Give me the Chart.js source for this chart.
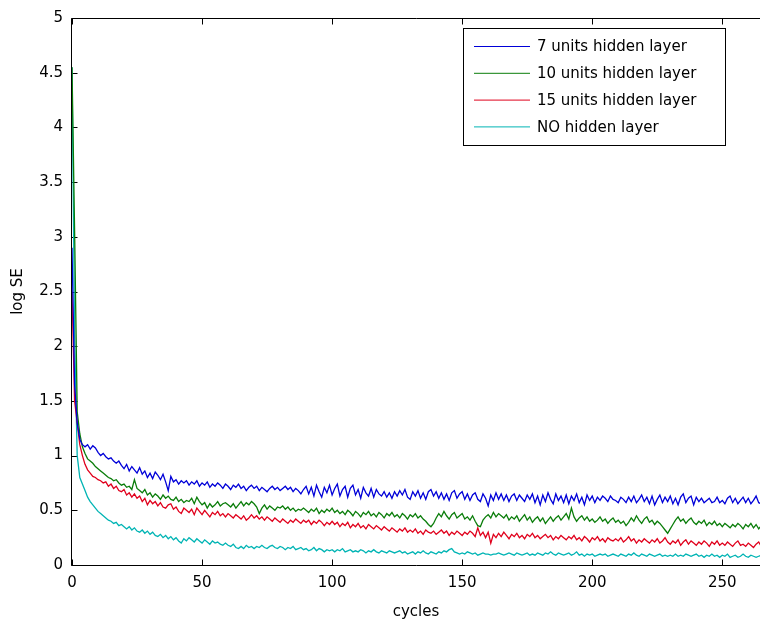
<!DOCTYPE html>
<html><head><meta charset="utf-8">
<script src="https://cdn.jsdelivr.net/npm/chart.js@4.4.1/dist/chart.umd.min.js"></script>
<style>html,body{margin:0;padding:0;background:#fff;overflow:hidden}canvas{display:block}</style>
</head><body>
<canvas id="c" width="760" height="621"></canvas>
<script>
// ---------- data ----------
const seriesLabels = ['7 units hidden layer', '10 units hidden layer', '15 units hidden layer', 'NO hidden layer'];
const seriesColors = ['#0000d8', '#0a7d0a', '#e0001c', '#00b4b4'];

const units7 = [
2.90,1.65,1.30,1.15,1.10,1.08,1.10,1.06,1.09,1.07,
1.03,1.00,1.02,0.99,0.97,0.98,0.95,0.93,0.95,0.91,
0.88,0.92,0.86,0.90,0.87,0.84,0.89,0.83,0.86,0.80,
0.84,0.79,0.85,0.82,0.78,0.83,0.76,0.68,0.81,0.76,
0.78,0.74,0.77,0.75,0.77,0.73,0.76,0.74,0.77,0.72,
0.75,0.73,0.76,0.71,0.74,0.72,0.75,0.73,0.70,0.74,
0.72,0.69,0.73,0.71,0.74,0.70,0.72,0.68,0.71,0.73,
0.70,0.72,0.68,0.71,0.69,0.67,0.70,0.72,0.69,0.71,
0.68,0.70,0.72,0.69,0.71,0.67,0.70,0.68,0.65,0.69,
0.72,0.65,0.71,0.63,0.73,0.67,0.62,0.71,0.66,0.73,
0.64,0.70,0.74,0.63,0.69,0.72,0.62,0.70,0.73,0.64,
0.69,0.61,0.71,0.66,0.63,0.70,0.62,0.69,0.65,0.63,
0.67,0.62,0.66,0.61,0.67,0.63,0.68,0.64,0.69,0.62,
0.60,0.67,0.63,0.68,0.61,0.66,0.60,0.67,0.69,0.63,
0.67,0.61,0.66,0.60,0.65,0.59,0.66,0.68,0.61,0.65,
0.67,0.60,0.65,0.59,0.64,0.66,0.60,0.58,0.65,0.61,
0.54,0.64,0.59,0.66,0.60,0.65,0.59,0.64,0.58,0.63,
0.65,0.59,0.64,0.61,0.58,0.64,0.60,0.65,0.57,0.63,
0.55,0.64,0.58,0.66,0.60,0.56,0.65,0.59,0.63,0.57,
0.64,0.56,0.63,0.59,0.65,0.57,0.62,0.55,0.64,0.59,
0.63,0.57,0.62,0.59,0.63,0.61,0.58,0.63,0.60,0.59,
0.57,0.62,0.60,0.57,0.62,0.58,0.63,0.57,0.60,0.64,
0.58,0.62,0.56,0.63,0.55,0.60,0.64,0.57,0.62,0.58,
0.63,0.56,0.61,0.55,0.62,0.65,0.57,0.61,0.63,0.55,
0.62,0.58,0.61,0.57,0.59,0.61,0.57,0.58,0.62,0.57,
0.59,0.56,0.61,0.63,0.57,0.61,0.56,0.59,0.62,0.57,
0.61,0.56,0.59,0.63,0.57,0.56,0.55];

const units10 = [
4.55,3.05,1.40,1.20,1.08,1.02,0.97,0.95,0.93,0.90,
0.88,0.86,0.84,0.82,0.80,0.79,0.77,0.78,0.75,0.73,
0.74,0.71,0.72,0.69,0.78,0.70,0.68,0.66,0.69,0.64,
0.66,0.62,0.65,0.63,0.60,0.64,0.61,0.63,0.60,0.59,
0.62,0.58,0.60,0.57,0.59,0.58,0.61,0.56,0.62,0.58,
0.55,0.57,0.52,0.56,0.53,0.55,0.58,0.54,0.56,0.57,
0.55,0.53,0.56,0.52,0.55,0.58,0.54,0.57,0.55,0.58,
0.56,0.53,0.47,0.52,0.55,0.51,0.54,0.52,0.50,0.53,
0.52,0.54,0.51,0.53,0.50,0.52,0.49,0.51,0.50,0.52,
0.50,0.48,0.51,0.49,0.52,0.47,0.50,0.48,0.51,0.49,
0.52,0.48,0.50,0.47,0.49,0.46,0.50,0.48,0.45,0.49,
0.47,0.44,0.48,0.46,0.49,0.45,0.47,0.44,0.48,0.46,
0.43,0.47,0.45,0.48,0.44,0.46,0.43,0.47,0.45,0.42,
0.46,0.44,0.47,0.43,0.45,0.42,0.40,0.37,0.35,0.38,
0.43,0.47,0.44,0.49,0.45,0.42,0.46,0.48,0.43,0.45,
0.47,0.42,0.44,0.41,0.45,0.40,0.36,0.35,0.41,0.44,
0.46,0.43,0.48,0.44,0.47,0.45,0.43,0.46,0.41,0.44,
0.42,0.45,0.40,0.43,0.46,0.41,0.44,0.39,0.42,0.44,
0.40,0.43,0.38,0.41,0.44,0.40,0.43,0.45,0.41,0.44,
0.47,0.42,0.52,0.44,0.40,0.43,0.45,0.41,0.44,0.40,
0.42,0.39,0.41,0.44,0.40,0.42,0.38,0.41,0.43,0.39,
0.41,0.38,0.40,0.36,0.39,0.43,0.40,0.45,0.41,0.38,
0.42,0.44,0.39,0.41,0.37,0.40,0.38,0.35,0.32,0.29,
0.33,0.37,0.41,0.44,0.40,0.42,0.38,0.41,0.43,0.39,
0.37,0.40,0.38,0.41,0.36,0.39,0.37,0.40,0.36,0.38,
0.35,0.38,0.36,0.34,0.37,0.35,0.38,0.36,0.33,0.37,
0.35,0.38,0.34,0.37,0.33,0.36,0.33];

const units15 = [
2.50,1.50,1.30,1.10,1.00,0.92,0.87,0.84,0.81,0.80,
0.78,0.77,0.75,0.76,0.72,0.74,0.70,0.72,0.68,0.67,
0.69,0.64,0.66,0.62,0.65,0.61,0.63,0.58,0.61,0.55,
0.59,0.56,0.58,0.54,0.57,0.53,0.52,0.55,0.56,0.51,
0.53,0.49,0.47,0.52,0.50,0.48,0.51,0.46,0.52,0.49,
0.46,0.50,0.47,0.44,0.48,0.46,0.49,0.45,0.47,0.44,
0.47,0.45,0.43,0.46,0.44,0.42,0.45,0.41,0.43,0.46,
0.43,0.45,0.42,0.44,0.41,0.44,0.42,0.40,0.43,0.41,
0.39,0.42,0.40,0.38,0.41,0.39,0.42,0.40,0.38,0.41,
0.39,0.41,0.37,0.40,0.38,0.41,0.39,0.36,0.39,0.37,
0.40,0.37,0.39,0.35,0.38,0.36,0.39,0.34,0.37,0.35,
0.38,0.34,0.36,0.33,0.37,0.35,0.33,0.36,0.34,0.32,
0.35,0.33,0.31,0.34,0.32,0.30,0.33,0.31,0.34,0.30,
0.32,0.30,0.33,0.29,0.31,0.28,0.32,0.30,0.29,0.31,
0.28,0.30,0.32,0.29,0.31,0.27,0.30,0.28,0.31,0.29,
0.27,0.30,0.28,0.31,0.29,0.26,0.34,0.27,0.30,0.25,
0.30,0.20,0.28,0.25,0.29,0.26,0.30,0.27,0.24,0.28,
0.26,0.29,0.25,0.27,0.24,0.28,0.26,0.29,0.25,0.27,
0.24,0.26,0.28,0.25,0.27,0.23,0.26,0.24,0.27,0.25,
0.23,0.26,0.24,0.27,0.23,0.25,0.22,0.26,0.24,0.21,
0.25,0.23,0.26,0.22,0.24,0.21,0.25,0.23,0.22,0.24,
0.22,0.25,0.21,0.23,0.26,0.22,0.24,0.20,0.23,0.21,
0.24,0.22,0.20,0.23,0.21,0.24,0.20,0.22,0.25,0.21,
0.19,0.22,0.20,0.23,0.18,0.21,0.23,0.19,0.22,0.20,
0.18,0.21,0.19,0.22,0.20,0.17,0.21,0.19,0.22,0.18,
0.20,0.18,0.21,0.19,0.17,0.20,0.22,0.18,0.19,0.17,
0.20,0.18,0.16,0.19,0.21,0.17,0.18];

const noHidden = [
4.55,2.10,1.00,0.80,0.74,0.68,0.62,0.58,0.55,0.52,
0.49,0.47,0.45,0.43,0.41,0.40,0.38,0.39,0.36,0.37,
0.35,0.33,0.35,0.32,0.34,0.31,0.30,0.32,0.29,0.31,
0.28,0.30,0.27,0.26,0.28,0.25,0.27,0.24,0.26,0.23,
0.25,0.22,0.20,0.24,0.22,0.25,0.23,0.21,0.24,0.22,
0.20,0.23,0.21,0.19,0.22,0.20,0.21,0.19,0.18,0.20,
0.18,0.17,0.19,0.16,0.15,0.17,0.15,0.18,0.16,0.17,
0.15,0.17,0.16,0.18,0.16,0.15,0.17,0.18,0.16,0.15,
0.17,0.16,0.14,0.16,0.15,0.17,0.14,0.15,0.16,0.14,
0.15,0.13,0.14,0.16,0.13,0.15,0.14,0.12,0.14,0.13,
0.14,0.12,0.14,0.13,0.15,0.12,0.13,0.14,0.12,0.13,
0.12,0.14,0.13,0.11,0.13,0.12,0.14,0.12,0.11,0.13,
0.12,0.11,0.13,0.12,0.11,0.12,0.13,0.11,0.12,0.10,
0.11,0.12,0.10,0.12,0.11,0.13,0.11,0.10,0.12,0.11,
0.10,0.12,0.11,0.13,0.12,0.14,0.15,0.12,0.11,0.10,
0.11,0.10,0.12,0.11,0.10,0.11,0.09,0.10,0.11,0.10,
0.10,0.09,0.10,0.10,0.11,0.10,0.09,0.10,0.11,0.10,
0.09,0.11,0.10,0.09,0.10,0.11,0.09,0.10,0.09,0.11,
0.10,0.09,0.11,0.10,0.12,0.10,0.09,0.11,0.10,0.09,
0.10,0.11,0.09,0.10,0.12,0.09,0.10,0.08,0.10,0.09,
0.10,0.08,0.09,0.10,0.09,0.10,0.08,0.09,0.10,0.09,
0.08,0.10,0.09,0.08,0.10,0.09,0.11,0.09,0.08,0.10,
0.09,0.08,0.10,0.09,0.08,0.09,0.10,0.08,0.09,0.08,
0.09,0.08,0.10,0.08,0.09,0.08,0.10,0.09,0.08,0.09,
0.10,0.08,0.09,0.07,0.09,0.08,0.10,0.08,0.09,0.07,
0.09,0.08,0.10,0.07,0.08,0.09,0.07,0.08,0.10,0.08,
0.07,0.09,0.08,0.07,0.08,0.09,0.07];

const cycles = units7.map((_, i) => i);           // x = cycle index
const xTickValues = [0, 50, 100, 150, 200, 250];
const xTickLabels = ['0', '50', '100', '150', '200', '250'];
const yTickValues = [0, 0.5, 1, 1.5, 2, 2.5, 3, 3.5, 4, 4.5, 5];
const yTickLabels = ['0', '0.5', '1', '1.5', '2', '2.5', '3', '3.5', '4', '4.5', '5'];
const xTitle = 'cycles';
const yTitle = 'log SE';

// ---------- drawing ----------
const FAMILY = "'DejaVu Sans', sans-serif";
const seriesValues = [units7, units10, units15, noHidden];

const framePlugin = {
  id: 'matlabFrame',
  beforeDatasetsDraw(chart) {
    const {ctx, chartArea: a, scales: {x, y}} = chart;
    const L = Math.floor(a.left) - 0.5, T = Math.floor(a.top) + 0.5, B = Math.floor(a.bottom) + 0.5;
    ctx.save();
    ctx.strokeStyle = '#000';
    ctx.lineWidth = 1;
    ctx.beginPath();
    ctx.moveTo(chart.width + 2, T); ctx.lineTo(L, T); ctx.lineTo(L, B); ctx.lineTo(chart.width + 2, B);
    xTickValues.forEach(v => {
      const px = Math.round(x.getPixelForValue(v)) + 0.5;
      ctx.moveTo(px, B); ctx.lineTo(px, B - 6);
      ctx.moveTo(px, T); ctx.lineTo(px, T + 6);
    });
    yTickValues.forEach(v => {
      const py = Math.round(y.getPixelForValue(v)) + 0.5;
      ctx.moveTo(L, py); ctx.lineTo(L + 6, py);
    });
    ctx.stroke();
    ctx.restore();
  }
};

const boxLegend = {
  id: 'boxLegend',
  afterDraw(chart) {
    const ctx = chart.ctx;
    ctx.save();
    ctx.fillStyle = '#fff';
    ctx.fillRect(463.5, 28.5, 262, 117);
    ctx.strokeStyle = '#000';
    ctx.lineWidth = 1;
    ctx.strokeRect(463.5, 28.5, 262, 117);
    ctx.font = '15px ' + FAMILY;
    ctx.textBaseline = 'middle';
    ctx.textAlign = 'left';
    chart.data.datasets.forEach((ds, i) => {
      const yy = 46.5 + i * 26.8;
      ctx.strokeStyle = ds.borderColor;
      ctx.lineWidth = 1;
      ctx.beginPath(); ctx.moveTo(474, yy); ctx.lineTo(530, yy); ctx.stroke();
      ctx.fillStyle = '#000';
      ctx.fillText(ds.label, 537, yy + 1);
    });
    ctx.restore();
  }
};

new Chart(document.getElementById('c'), {
  type: 'line',
  data: {
    datasets: seriesLabels.map((lab, i) => ({
      label: lab,
      data: seriesValues[i].map((v, k) => ({x: cycles[k], y: v})),
      borderColor: seriesColors[i],
      borderWidth: 1.3,
      pointRadius: 0,
      tension: 0,
      fill: false
    }))
  },
  options: {
    responsive: false,
    animation: false,
    devicePixelRatio: 1,
    layout: {padding: {top: 17, right: 0, bottom: 0, left: 0}},
    plugins: {legend: {display: false}, tooltip: {enabled: false}},
    scales: {
      x: {
        type: 'linear', min: 0, max: 264.5,
        afterBuildTicks: s => { s.ticks = xTickValues.map(v => ({value: v})); },
        afterFit: s => { s.height = 56; },
        grid: {display: false, drawTicks: false},
        border: {display: false},
        ticks: {padding: 9, color: '#000', font: {family: FAMILY, size: 15}, maxRotation: 0, autoSkip: false,
                callback: (v, i) => xTickLabels[i]},
        title: {display: true, text: xTitle, color: '#000', font: {family: FAMILY, size: 15}, padding: {top: 0, bottom: 0}}
      },
      y: {
        type: 'linear', min: 0, max: 5,
        afterBuildTicks: s => { s.ticks = yTickValues.map(v => ({value: v})); },
        afterFit: s => { s.width = 72; },
        grid: {display: false, drawTicks: false},
        border: {display: false},
        ticks: {padding: 9, color: '#000', font: {family: FAMILY, size: 15}, autoSkip: false,
                callback: (v, i) => yTickLabels[i]},
        title: {display: true, text: yTitle, color: '#000', font: {family: FAMILY, size: 15}, padding: {top: 9, bottom: 0}}
      }
    }
  },
  plugins: [framePlugin, boxLegend]
});
</script>
</body></html>
